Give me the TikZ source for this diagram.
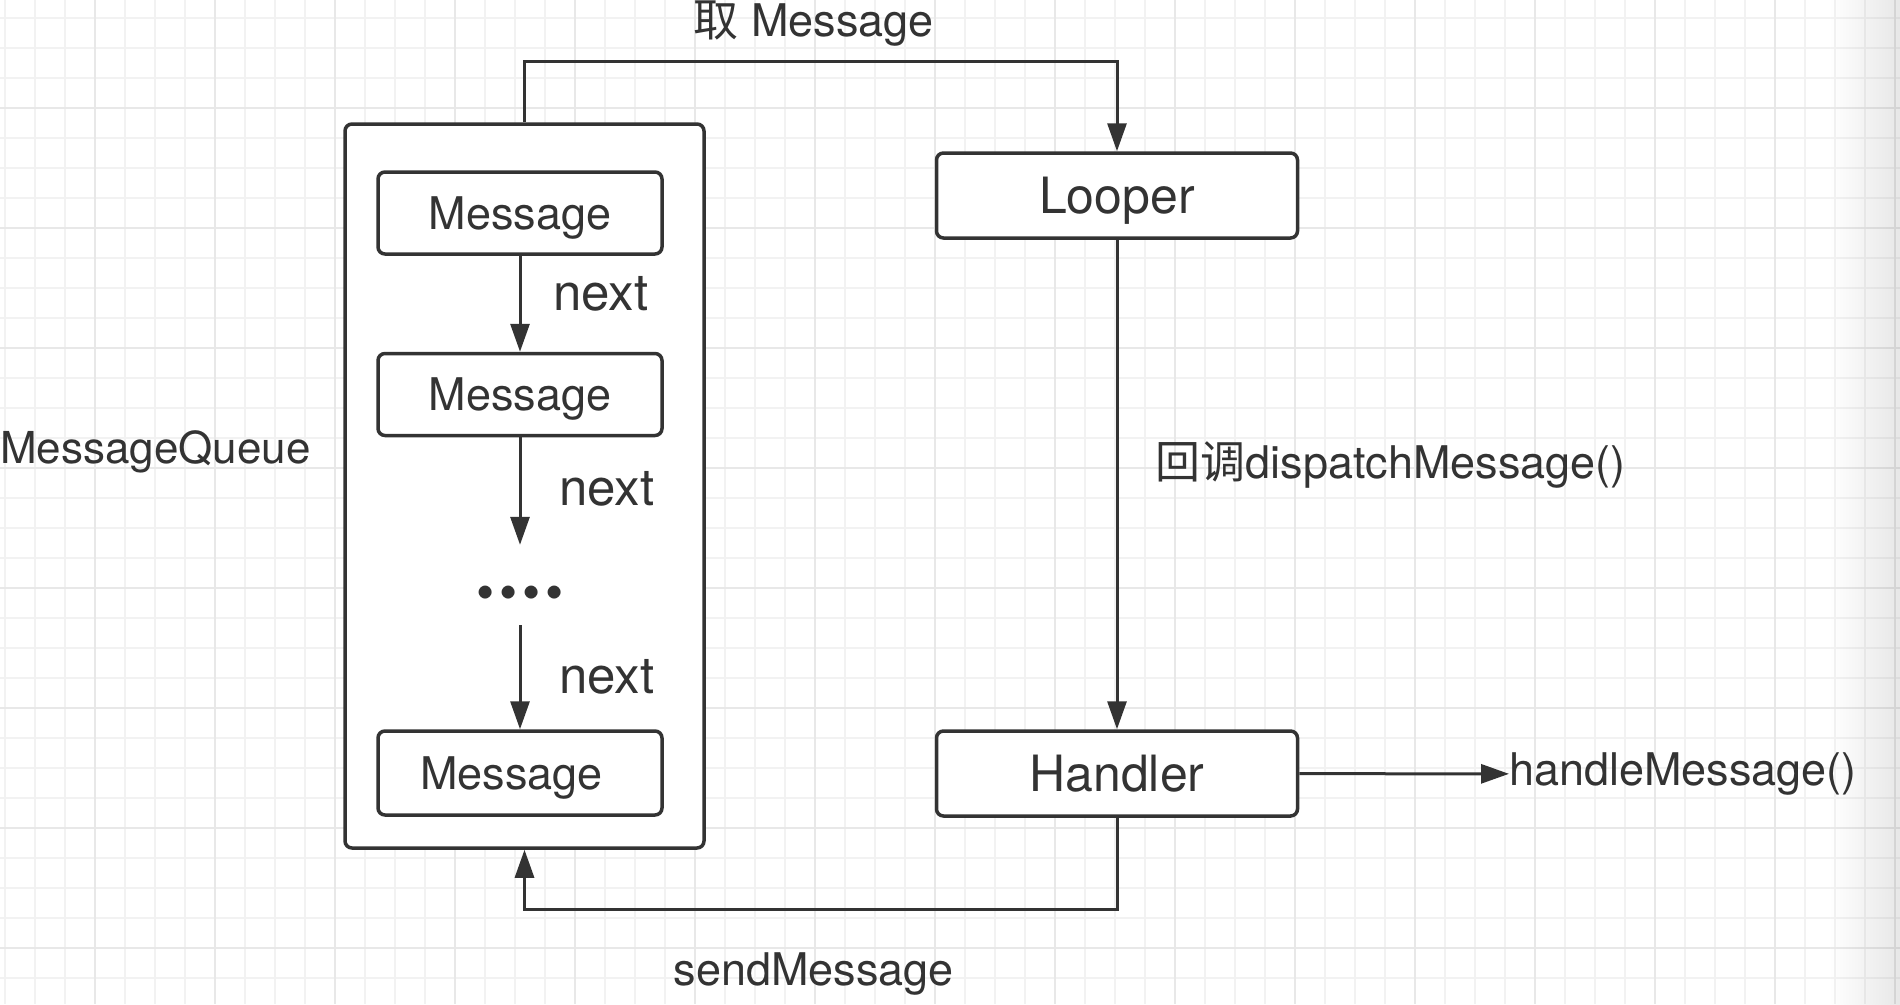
\documentclass[tikz,border=0pt]{standalone}
\usepackage{fontspec}
\setmainfont{TeX Gyre Heros}
\newfontfamily\cjk{Noto Sans CJK SC}
\usetikzlibrary{arrows.meta}
\definecolor{ink}{HTML}{333333}
\definecolor{gridminor}{HTML}{F2F2F2}
\definecolor{gridmajor}{HTML}{E8E8E8}

\begin{document}
\begin{tikzpicture}[x=1pt, y=-1pt]
      \fontsize{45}{52}\selectfont
      \tikzstyle{box}=[draw=ink, line width=3.5pt, rounded corners=7pt, text=ink, inner sep=0pt, text depth=0pt]
      \tikzstyle{arrow}=[draw=ink, line width=3pt, -{Triangle[length=28pt, width=19pt]}]
      \tikzstyle{label}=[text=ink, inner sep=0pt]
      \tikzstyle{nextlabel}=[label, font=\fontsize{51}{58}\selectfont]
      \useasboundingbox (0,0) rectangle (1900,1004);
      \fill[white] (0,0) rectangle (1900,1004);
      \foreach \x in {5,35,...,1900} \draw[gridminor, line width=2pt] (\x,0) -- (\x,1004);
      \foreach \y in {18,48,...,1004} \draw[gridminor, line width=2pt] (0,\y) -- (1900,\y);
      \foreach \x in {95,215,...,1900} \draw[gridmajor, line width=2.5pt] (\x,0) -- (\x,1004);
      \foreach \y in {108,228,...,1004} \draw[gridmajor, line width=2.5pt] (0,\y) -- (1900,\y);
      \shade[left color=white, right color=black, opacity=0.09] (1830,0) rectangle (1900,1004);

      \node[box, fill=white, minimum width=359pt, minimum height=724pt] (queue) at (524.5,486) {};
      \node[box, minimum width=284pt, minimum height=82pt] (msgA) at (520,213) {Message};
      \node[box, minimum width=284pt, minimum height=82pt] (msgB) at (520,394.5) {Message};
      \node[label, minimum height=80pt, font=\fontsize{52}{60}\selectfont] (dots) at (520,585) {\raisebox{-25pt}[0pt][0pt]{•\hspace{5pt}•\hspace{5pt}•\hspace{5pt}•}};
      \node[box, minimum width=284pt, minimum height=84pt] (msgC) at (520,773) {Message\hspace*{17pt}};
      \node[box, fill=white, minimum width=361pt, minimum height=85pt, font=\fontsize{50}{58}\selectfont] (looper) at (1117,195.5) {Looper};
      \node[box, fill=white, minimum width=361pt, minimum height=85pt, font=\fontsize{50}{58}\selectfont] (handler) at (1117,773.5) {Handler};
      \node[label, anchor=base west, font=\fontsize{44}{52}\selectfont] (queuename) at (0,463) {MessageQueue};
      \node[label, anchor=west] (handle) at (1509,774) {handleMessage()};

      \draw[arrow] (msgA) -- (msgB) node[nextlabel, pos=0.4, right=32pt] {next};
      \draw[arrow] (msgB) -- (dots) node[nextlabel, pos=0.48, right=38pt] {next};
      \draw[arrow] (dots) -- (msgC) node[nextlabel, midway, right=38pt] {next};
      \draw[arrow] (queue.north) -- ++(0,-61) -| (looper.north) node[label, pos=0.25, above=13pt, xshift=-7pt] {{\cjk 取} Message};
      \draw[arrow] (looper) -- (handler) node[label, pos=0.46, right=37pt] {{\cjk 回调}dispatchMessage()};
      \draw[arrow] (handler) -- (handle);
      \draw[arrow] (handler.south) -- ++(0,92) -| (queue.south) node[label, pos=0.25, below=41pt, xshift=-7pt] {sendMessage};
    \end{tikzpicture}
\end{document}
